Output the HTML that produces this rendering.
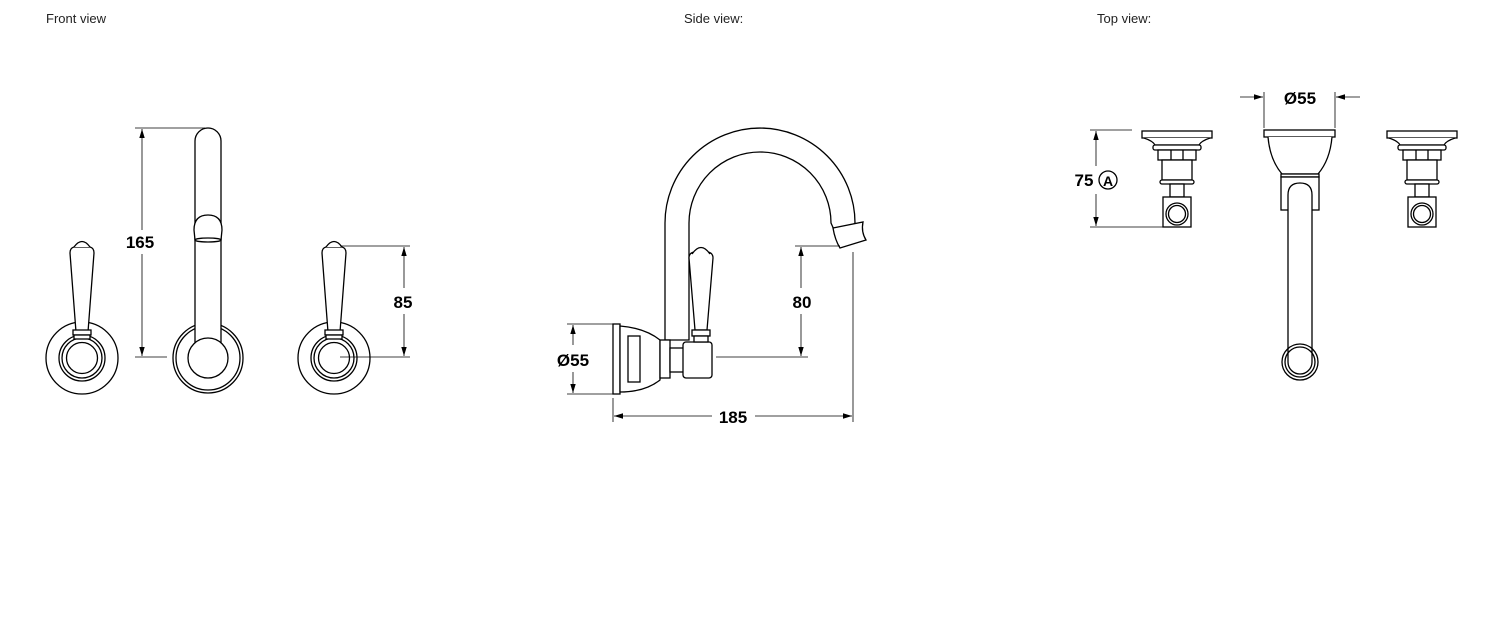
<!DOCTYPE html>
<html><head><meta charset="utf-8"><style>
html,body{margin:0;padding:0;background:#fff;}
svg{display:block;}
text{font-family:"Liberation Sans",Arial,sans-serif;fill:#000;}
.b{font-weight:bold;font-size:17px;}
.l{font-size:13px;fill:#222;}
</style></head><body>
<svg width="1500" height="620" viewBox="0 0 1500 620" xmlns="http://www.w3.org/2000/svg">
<defs>
<marker id="a" viewBox="0 0 10 10" refX="10" refY="5" markerWidth="9" markerHeight="9" orient="auto-start-reverse" markerUnits="userSpaceOnUse"><path d="M0,2 L10,5 L0,8 Z" fill="#000"/></marker>
<g id="handle" fill="#fff" stroke="#000" stroke-width="1.3">
<circle cx="0" cy="0" r="36"/>
<circle cx="0" cy="0" r="23"/>
<circle cx="0" cy="0" r="20"/>
<circle cx="0" cy="0" r="15.5"/>
<path d="M-6,-26 L-12,-105 Q-12,-110 -8,-111 L8,-111 Q12,-110 12,-105 L6,-26 Z"/>
<path d="M-8,-111 Q0,-122 8,-111"/>
<rect x="-9" y="-28" width="18" height="5"/>
<rect x="-8" y="-23" width="16" height="4"/>
</g>
<g id="valve" fill="#fff" stroke="#000" stroke-width="1.3">
<rect x="-35" y="131" width="70" height="7"/>
<path d="M-33,138 Q-24,141 -22,145 L22,145 Q24,141 33,138"/>
<rect x="-24" y="145" width="48" height="5" rx="2"/>
<rect x="-19" y="150" width="38" height="10"/>
<line x1="-6" y1="150" x2="-6" y2="160"/><line x1="6" y1="150" x2="6" y2="160"/>
<rect x="-15" y="160" width="30" height="20"/>
<rect x="-17" y="180" width="34" height="4" rx="2"/>
<rect x="-7" y="184" width="14" height="13"/>
<rect x="-14" y="197" width="28" height="30"/>
<circle cx="0" cy="214" r="11"/><circle cx="0" cy="214" r="8.5"/>
</g>
</defs>

<text class="l" x="46" y="23">Front  view</text>
<text class="l" x="684" y="23">Side  view:</text>
<text class="l" x="1097" y="23">Top view:</text>

<!-- FRONT VIEW -->
<use href="#handle" x="82" y="358"/>
<use href="#handle" x="334" y="358"/>
<g fill="#fff" stroke="#000" stroke-width="1.3">
<circle cx="208" cy="358" r="35"/>
<circle cx="208" cy="358" r="32"/>
<path d="M195,345 L195,141 A13,13 0 0 1 221,141 L221,345"/>
<path d="M194,230 Q194,215 208,215 Q222,215 222,230 L221,240 L195,240 Z"/>
<ellipse cx="208" cy="240" rx="13" ry="2"/>
<circle cx="208" cy="358" r="20"/>
</g>
<g stroke="#000" stroke-width="0.8" fill="none">
<line x1="135" y1="128" x2="205" y2="128"/>
<line x1="135" y1="357" x2="167" y2="357"/>
<line x1="142" y1="230" x2="142" y2="129" marker-end="url(#a)"/>
<line x1="142" y1="254" x2="142" y2="356" marker-end="url(#a)"/>
<line x1="340" y1="246" x2="410" y2="246"/>
<line x1="340" y1="357" x2="410" y2="357"/>
<line x1="404" y1="288" x2="404" y2="247" marker-end="url(#a)"/>
<line x1="404" y1="314" x2="404" y2="356" marker-end="url(#a)"/>
</g>
<text class="b" x="140" y="248" text-anchor="middle">165</text>
<text class="b" x="403" y="308" text-anchor="middle">85</text>

<!-- SIDE VIEW -->
<g fill="#fff" stroke="#000" stroke-width="1.3">
<path d="M665,340 L665,223 A95,95 0 0 1 855,223 L848,230 L835,232 L831,223 A71,71 0 0 0 689,223 L689,340 Z"/>
<path d="M833,228 L863,222 Q861,232 866,240 L840,248 Q835,240 833,228 Z"/>
<rect x="613" y="324" width="7" height="70"/>
<path d="M620,326 Q645,328 660,340 L660,380 Q645,392 620,392 Z"/>
<rect x="628" y="336" width="12" height="46"/>
<rect x="660" y="340" width="10" height="38"/>
<rect x="670" y="348" width="14" height="24"/>
<rect x="683" y="342" width="29" height="36" rx="3"/>
<path d="M695,330 L689,258 Q689,253 694,252 L708,252 Q713,253 713,258 L707,330 Z"/>
<path d="M692,254 Q701,241 710,254"/>
<rect x="692" y="330" width="18" height="6"/>
<rect x="694" y="336" width="14" height="6"/>
</g>
<g stroke="#000" stroke-width="0.8" fill="none">
<line x1="795" y1="246" x2="840" y2="246"/>
<line x1="716" y1="357" x2="808" y2="357"/>
<line x1="801" y1="288" x2="801" y2="247" marker-end="url(#a)"/>
<line x1="801" y1="314" x2="801" y2="356" marker-end="url(#a)"/>
<line x1="567" y1="324" x2="613" y2="324"/>
<line x1="567" y1="394" x2="613" y2="394"/>
<line x1="573" y1="345" x2="573" y2="325" marker-end="url(#a)"/>
<line x1="573" y1="372" x2="573" y2="393" marker-end="url(#a)"/>
<line x1="613" y1="398" x2="613" y2="422"/>
<line x1="853" y1="252" x2="853" y2="422"/>
<line x1="712" y1="416" x2="614" y2="416" marker-end="url(#a)"/>
<line x1="755" y1="416" x2="852" y2="416" marker-end="url(#a)"/>
</g>
<text class="b" x="802" y="308" text-anchor="middle">80</text>
<text class="b" x="573" y="366" text-anchor="middle">Ø55</text>
<text class="b" x="733" y="423" text-anchor="middle">185</text>

<!-- TOP VIEW -->
<use href="#valve" x="1177" y="0"/>
<use href="#valve" x="1422" y="0"/>
<g fill="#fff" stroke="#000" stroke-width="1.3">
<rect x="1264" y="130" width="71" height="7"/>
<path d="M1268,137 Q1270,160 1282,174 L1318,174 Q1330,160 1332,137"/>
<rect x="1281" y="174" width="38" height="3"/>
<rect x="1281" y="177" width="38" height="33"/>
<path d="M1288,362 L1288,195 Q1288,183 1300,183 Q1312,183 1312,195 L1312,362 A12,12 0 0 1 1288,362 Z"/>
<circle cx="1300" cy="362" r="18" fill="none"/>
<circle cx="1300" cy="362" r="15" fill="none"/>
</g>
<g stroke="#000" stroke-width="0.8" fill="none">
<line x1="1264" y1="92" x2="1264" y2="128"/>
<line x1="1335" y1="92" x2="1335" y2="128"/>
<line x1="1240" y1="97" x2="1263" y2="97" marker-end="url(#a)"/>
<line x1="1360" y1="97" x2="1336" y2="97" marker-end="url(#a)"/>
<line x1="1090" y1="130" x2="1132" y2="130"/>
<line x1="1090" y1="227" x2="1165" y2="227"/>
<line x1="1096" y1="166" x2="1096" y2="131" marker-end="url(#a)"/>
<line x1="1096" y1="194" x2="1096" y2="226" marker-end="url(#a)"/>
<circle cx="1108" cy="180" r="9" stroke-width="1.3"/>
</g>
<text class="b" x="1300" y="104" text-anchor="middle">Ø55</text>
<text class="b" x="1084" y="186" text-anchor="middle">75</text>
<text class="b" x="1108" y="186" text-anchor="middle" style="font-size:14px">A</text>
</svg>
</body></html>
